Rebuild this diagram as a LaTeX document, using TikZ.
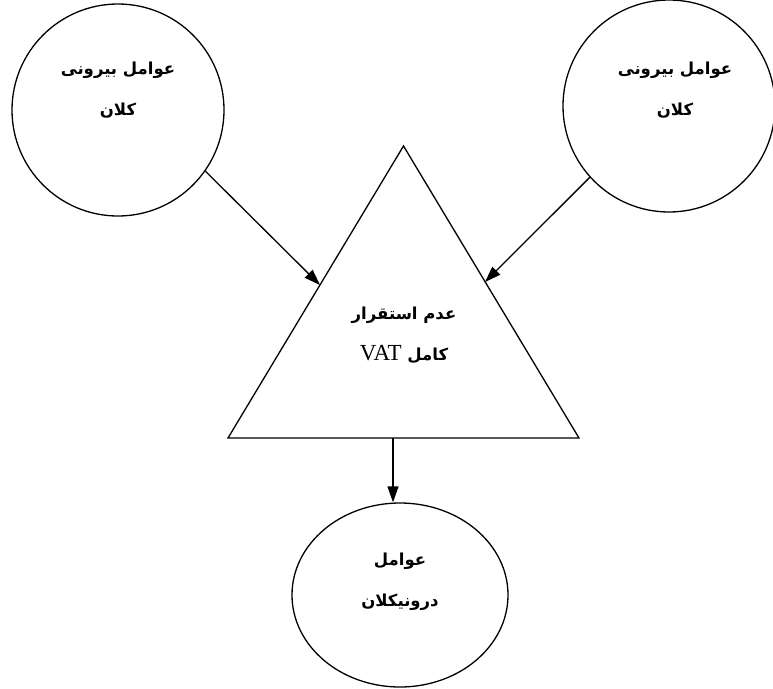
\documentclass[tikz,border=0pt]{standalone}
\usepackage{fontspec}
\TeXXeTstate=1
\newfontfamily\arabicfont[Script=Arabic]{DejaVu Sans}
\newfontfamily\latinfont{Liberation Serif}
\usetikzlibrary{shapes.geometric,arrows.meta}
\tikzset{
  factor/.style={draw,line width=1.3pt,circle,minimum size=212pt,inner sep=0pt},
  inner factor/.style={draw,line width=1.3pt,ellipse,minimum width=216pt,minimum height=184pt,inner sep=0pt},
  fatext/.style={align=center,font=\arabicfont\bfseries\fontsize{16.5pt}{41pt}\selectfont},
  flow/.style={line width=1.3pt,-{Triangle[length=16pt,width=11pt]}}
}
\begin{document}
\begin{tikzpicture}[x=1pt,y=-1pt]
            \useasboundingbox (0,0) rectangle (773,688);
            % the three factors
            \node[factor] (outerl) at (118,110) {};
            \node[factor] (outerr) at (669,106) {};
            \node[inner factor] (inner) at (400,595) {};
            \node[fatext] (outerltext) at (118,90) {\beginR عوامل بیرونی\endR\\\beginR کلان\endR};
            \node[fatext] (outerrtext) at (675,90) {\beginR عوامل بیرونی\endR\\\beginR کلان\endR};
            \node[fatext] (innertext) at (400,582) {\beginR عوامل\endR\\\beginR درونیکلان\endR};
            % triangle
            \coordinate (apex) at (403.5,146);
            \coordinate (basel) at (228,438);
            \coordinate (baser) at (579,438);
            \draw[line width=1.3pt,line join=miter] (apex) -- (basel) -- (baser) -- cycle;
            \node[fatext] (vattext) at (404,335) {\beginR عدم استقرار\endR\\\beginR کامل {\latinfont\mdseries\fontsize{23pt}{41pt}\selectfont\beginL VAT\endL}\endR};
            % arrows
            \coordinate (hitl) at (320,285);
            \coordinate (hitr) at (485,282);
            \coordinate (hitb) at (393,438);
            \draw[flow] (outerl.-35) -- (hitl);
            \draw[flow] (outerr.-138) -- (hitr);
            \draw[flow] (hitb) -- (hitb |- inner.north);
\end{tikzpicture}
\end{document}
